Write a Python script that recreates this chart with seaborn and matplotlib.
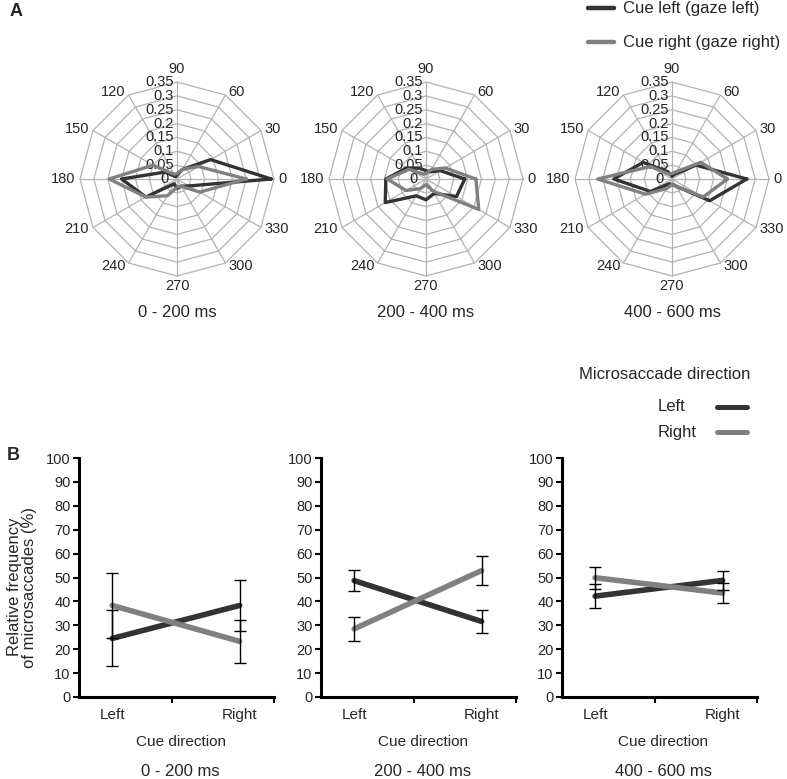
import numpy as np
import pandas as pd
import matplotlib
matplotlib.use("Agg")
import matplotlib.pyplot as plt
import seaborn as sns

sns.set_style("white")
plt.rcParams['font.family'] = ['Liberation Sans', 'DejaVu Sans']

W, H = 787, 779
DARK = '#333333'
GRAY = '#808080'

# ---- data: panel A (radar, relative frequency per direction) ----
angles = [0, 30, 60, 90, 120, 150, 180, 210, 240, 270, 300, 330]
rings = [0.05, 0.1, 0.15, 0.2, 0.25, 0.3, 0.35]
ring_labels = ['0', '0.05', '0.1', '0.15', '0.2', '0.25', '0.3', '0.35']
periods = ['0 - 200 ms', '200 - 400 ms', '400 - 600 ms']

cue_left_0 = [0.34, 0.14, 0.04, 0.015, 0.01, 0.05, 0.20, 0.13, 0.02, 0.035, 0.03, 0.05]
cue_right_0 = [0.25, 0.09, 0.04, 0.02, 0.02, 0.10, 0.245, 0.13, 0.07, 0.03, 0.03, 0.095]
cue_left_1 = [0.14, 0.06, 0.03, 0.03, 0.045, 0.08, 0.145, 0.17, 0.07, 0.075, 0.06, 0.127]
cue_right_1 = [0.18, 0.08, 0.04, 0.02, 0.02, 0.07, 0.14, 0.083, 0.04, 0.02, 0.05, 0.22]
cue_left_2 = [0.27, 0.10, 0.02, 0.01, 0.03, 0.12, 0.21, 0.09, 0.02, 0.02, 0.03, 0.157]
cue_right_2 = [0.20, 0.12, 0.03, 0.02, 0.02, 0.09, 0.268, 0.11, 0.04, 0.02, 0.03, 0.13]
radar_left = [cue_left_0, cue_left_1, cue_left_2]
radar_right = [cue_right_0, cue_right_1, cue_right_2]

# ---- data: panel B (relative frequency %, mean and error) ----
cue_dirs = ['Left', 'Right']
ms_left_mean = [[24.5, 38.3], [48.7, 31.6], [42.2, 48.8]]
ms_left_err = [[11.7, 10.8], [4.3, 4.7], [5.0, 4.1]]
ms_right_mean = [[38.3, 23.3], [28.5, 52.9], [49.9, 43.5]]
ms_right_err = [[13.6, 8.9], [5.0, 6.1], [4.6, 4.1]]
yticks = list(range(0, 101, 10))


def fx(x):
    return x / W


def fy(y):
    return 1 - y / H


fig = plt.figure(figsize=(W / 100, H / 100), dpi=100)

# ---------------- panel A ----------------
centers = [177, 426, 672]
scale = 277  # px per unit
half = 0.45
th = np.deg2rad(angles)
for i, cx in enumerate(centers):
    cy = 179
    size = 2 * half * scale
    ax = fig.add_axes([fx(cx - size / 2), fy(cy + size / 2), size / W, size / H])
    ax.set_xlim(-half, half)
    ax.set_ylim(-half, half)
    ax.set_aspect('equal')
    ax.axis('off')
    # polygon grid
    for r in rings:
        gx = np.append(r * np.cos(th), r)
        gy = np.append(r * np.sin(th), 0)
        ax.plot(gx, gy, color='#b3b3b3', lw=0.9, zorder=1)
    for t in th:
        ax.plot([0, 0.35 * np.cos(t)], [0, 0.35 * np.sin(t)], color='#b3b3b3', lw=0.9, zorder=1)
    # series
    for vals, col in [(radar_left[i], DARK), (radar_right[i], GRAY)]:
        v = np.append(vals, vals[0])
        tt = np.append(th, th[0])
        df = pd.DataFrame({'x': v * np.cos(tt), 'y': v * np.sin(tt)})
        sns.lineplot(data=df, x='x', y='y', sort=False, estimator=None,
                     color=col, lw=2.4, ax=ax, zorder=3)
    ax.set_xlabel('')
    ax.set_ylabel('')
    # angle labels
    for a, t in zip(angles, th):
        c, s = np.cos(t), np.sin(t)
        if a == 90:
            ax.text(0, 0.372, '90', ha='center', va='bottom', fontsize=10.5, clip_on=False)
            continue
        if a == 270:
            ax.text(0, -0.362, '270', ha='center', va='top', fontsize=10.5, clip_on=False)
            continue
        ha = 'left' if c > 0.1 else ('right' if c < -0.1 else 'center')
        ax.text(0.362 * c + (0.004 if c > 0 else -0.004), 0.362 * s, str(a), ha=ha, va='center',
                fontsize=10.5, clip_on=False)
    # radial labels
    for k, lab in enumerate(ring_labels):
        ax.text(-0.012 if k else -0.03, 0.05 * k, lab, ha='right', va='center', fontsize=10.5, zorder=2)
    fig.text(fx(cx), fy(312), periods[i], ha='center', va='center', fontsize=12)

fig.text(fx(10), fy(12), 'A', fontsize=13, fontweight='bold', ha='left', va='center')

# top legend
for y, lab, col in [(8, 'Cue left (gaze left)', DARK), (42, 'Cue right (gaze right)', GRAY)]:
    fig.add_artist(plt.Line2D([fx(588), fx(614)], [fy(y), fy(y)], color=col, lw=3.2,
                              transform=fig.transFigure))
    fig.text(fx(623), fy(y), lab, ha='left', va='center', fontsize=12)

# ---------------- panel B ----------------
lefts = [79, 321, 562]
for i, lx in enumerate(lefts):
    ax = fig.add_axes([fx(lx), fy(697), 195 / W, 239 / H])
    df = pd.DataFrame({
        'cue': [0, 1, 0, 1],
        'freq': ms_left_mean[i] + ms_right_mean[i],
        'dir': ['Left', 'Left', 'Right', 'Right'],
    })
    sns.lineplot(data=df, x='cue', y='freq', hue='dir', palette={'Left': DARK, 'Right': GRAY},
                 lw=4, legend=False, ax=ax, zorder=2, solid_capstyle='round')
    ax.errorbar([0, 1], ms_left_mean[i], yerr=ms_left_err[i], fmt='none', ecolor='black',
                elinewidth=1, capsize=4, capthick=1, zorder=3)
    ax.errorbar([0, 1], ms_right_mean[i], yerr=ms_right_err[i], fmt='none', ecolor='black',
                elinewidth=1, capsize=4, capthick=1, zorder=3)
    ax.set_xlim(-0.26, 1.27)
    ax.set_ylim(0, 100)
    ax.set_yticks(yticks)
    ax.set_yticklabels([str(v) for v in yticks], fontsize=10.5)
    ax.set_xticks([0.47, 1.27])
    ax.set_xticklabels(['', ''])
    ax.set_xticks([0, 1], minor=True)
    ax.set_xticklabels(cue_dirs, minor=True, fontsize=11)
    ax.tick_params(axis='x', which='minor', length=0, pad=8)
    ax.tick_params(axis='both', which='major', direction='out', length=4, width=1.5, color='black', pad=2)
    ax.tick_params(axis='y', left=True)
    ax.tick_params(axis='x', bottom=True)
    for sp in ['top', 'right']:
        ax.spines[sp].set_visible(False)
    for sp in ['left', 'bottom']:
        ax.spines[sp].set_color('black')
        ax.spines[sp].set_linewidth(2.2)
    ax.set_xlabel('')
    ax.set_ylabel('')
    ax.set_facecolor('none')
    cxp = lx + 195 / 2 + 4
    fig.text(fx(cxp), fy(742), 'Cue direction', ha='center', va='center', fontsize=11)
    fig.text(fx(cxp), fy(772), periods[i], ha='center', va='center', fontsize=12)

fig.text(fx(7), fy(456), 'B', fontsize=13, fontweight='bold', ha='left', va='center')
fig.text(fx(22), fy(587), 'Relative frequency\nof microsaccades (%)', rotation=90,
         ha='center', va='center', fontsize=12, linespacing=1.0)

# bottom legend
fig.text(fx(665), fy(375), 'Microsaccade direction', ha='center', va='center', fontsize=12)
for y, lab, col in [(407, 'Left', DARK), (432, 'Right', GRAY)]:
    fig.add_artist(plt.Line2D([fx(717), fx(747)], [fy(y), fy(y)], color=col, lw=3.6,
                              transform=fig.transFigure, solid_capstyle='round'))
    fig.text(fx(658), fy(y), lab, ha='left', va='center', fontsize=12)

fig.savefig('out.png', dpi=100)
